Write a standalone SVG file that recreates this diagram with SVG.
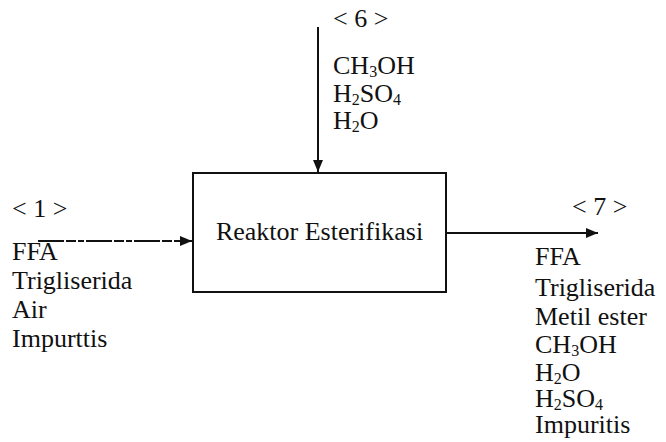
<svg xmlns="http://www.w3.org/2000/svg" width="666" height="442" viewBox="0 0 666 442">
<style>
  .t { font-family: "Liberation Serif", "Times New Roman", serif; font-size: 26px; fill: #111; }
  .s { font-size: 16px; }
  .line { stroke: #111; stroke-width: 2; fill: none; }
  .dash { stroke-dasharray: 26 2 10 2 6 2; }
</style>
<defs>
  <marker id="ah" viewBox="0 0 12 10" refX="12" refY="5" markerWidth="12" markerHeight="10" markerUnits="userSpaceOnUse" orient="auto">
    <path d="M0,0 L12,5 L0,10 Z" fill="#111"/>
  </marker>
</defs>
<rect width="666" height="442" fill="#fff"/>

<g id="connectors">
  <line class="line" x1="318" y1="27" x2="318" y2="172" marker-end="url(#ah)"/>
  <line class="line dash" x1="38" y1="241" x2="192" y2="241" marker-end="url(#ah)"/>
  <line class="line" x1="446" y1="233" x2="598" y2="233" marker-end="url(#ah)"/>
</g>

<g id="reactor">
  <rect class="line" x="193" y="173" width="253" height="119"/>
  <text class="t" x="319.5" y="240" text-anchor="middle">Reaktor Esterifikasi</text>
</g>

<g id="stream6">
  <text class="t" x="333" y="27">&lt; 6 &gt;</text>
  <text class="t" x="333" y="74">CH<tspan class="s" dy="3">3</tspan><tspan dy="-3">OH</tspan></text>
  <text class="t" x="333" y="102">H<tspan class="s" dy="3">2</tspan><tspan dy="-3">SO</tspan><tspan class="s" dy="3">4</tspan></text>
  <text class="t" x="333" y="129">H<tspan class="s" dy="3">2</tspan><tspan dy="-3">O</tspan></text>
</g>

<g id="stream1">
  <text class="t" x="12" y="217">&lt; 1 &gt;</text>
  <text class="t" x="12" y="260">FFA</text>
  <text class="t" x="12" y="289">Trigliserida</text>
  <text class="t" x="12" y="318">Air</text>
  <text class="t" x="12" y="347">Impurttis</text>
</g>

<g id="stream7">
  <text class="t" x="572" y="215">&lt; 7 &gt;</text>
  <text class="t" x="535" y="265">FFA</text>
  <text class="t" x="535" y="296">Trigliserida</text>
  <text class="t" x="535" y="325">Metil ester</text>
  <text class="t" x="535" y="353">CH<tspan class="s" dy="3">3</tspan><tspan dy="-3">OH</tspan></text>
  <text class="t" x="535" y="381">H<tspan class="s" dy="3">2</tspan><tspan dy="-3">O</tspan></text>
  <text class="t" x="535" y="407">H<tspan class="s" dy="3">2</tspan><tspan dy="-3">SO</tspan><tspan class="s" dy="3">4</tspan></text>
  <text class="t" x="535" y="433">Impuritis</text>
</g>
</svg>
